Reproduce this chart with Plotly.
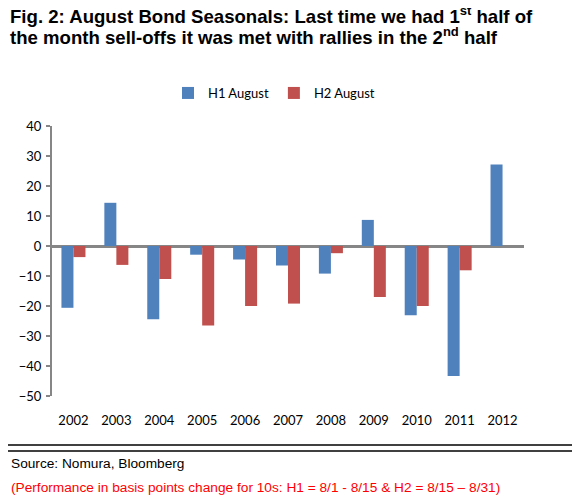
import plotly.graph_objects as go

years = ["2002", "2003", "2004", "2005", "2006", "2007", "2008", "2009", "2010", "2011", "2012"]
h1_august = [-20.6, 14.4, -24.4, -2.9, -4.5, -6.5, -9.2, 8.7, -23.1, -43.3, 27.2]
h2_august = [-3.7, -6.3, -11.0, -26.5, -20.0, -19.2, -2.4, -17.0, -20.0, -8.1, None]
y_ticks = [40, 30, 20, 10, 0, -10, -20, -30, -40, -50]

BLUE = "#4F81BD"
RED = "#C0504D"
AXIS = "#868686"

# page has an 8px body margin; figure coordinates are page coordinates minus 8
W, H = 572, 493
L, R, T, B = 44, 56, 118, 105
PW, PH = W - L - R, H - T - B


def px(xp):
    return (xp - 8 - L) / PW


def py(yp):
    return (H - B - (yp - 8)) / PH


fig = go.Figure()
fig.add_trace(go.Bar(x=years, y=h1_august, name="H1 August", marker=dict(color=BLUE, line_width=0)))
fig.add_trace(go.Bar(x=years, y=h2_august, name="H2 August", marker=dict(color=RED, line_width=0)))

ymin, ymax = -50, 40
boundaries = [i - 0.5 for i in range(len(years) + 1)]

fig.update_layout(
    width=W, height=H,
    paper_bgcolor="white", plot_bgcolor="white",
    margin=dict(l=L, r=R, t=T, b=B, autoexpand=False),
    barmode="group", bargap=0.44, bargroupgap=0,
    font=dict(family="Lato", size=13, color="#000000"),
    legend=dict(
        orientation="h", x=px(274), xanchor="center", y=py(93), yanchor="middle",
        font=dict(family="Lato", size=13), itemwidth=30, bgcolor="rgba(0,0,0,0)",
        traceorder="normal",
    ),
    xaxis=dict(
        type="category", showline=False, ticks="", showgrid=False, zeroline=False,
        tickfont=dict(family="Lato", size=13), ticklabelstandoff=15,
    ),
    xaxis2=dict(
        overlaying="x", anchor="free", position=(0 - ymin) / (ymax - ymin),
        range=[-0.5, len(years) - 0.5], tickvals=boundaries, showticklabels=False,
        ticks="outside", ticklen=5, tickwidth=2, tickcolor=AXIS,
        showline=False, showgrid=False, zeroline=False,
    ),
    yaxis=dict(
        range=[ymin, ymax], tickvals=y_ticks, showgrid=False,
        showline=True, linecolor=AXIS, linewidth=2,
        ticks="outside", ticklen=4, tickwidth=2, tickcolor=AXIS,
        zeroline=True, zerolinecolor=AXIS, zerolinewidth=2.5,
        tickfont=dict(family="Lato", size=13), ticklabelstandoff=2,
    ),
    showlegend=True,
)

# title, two lines placed separately for tighter line spacing
title_lines = [
    ("Fig. 2: August Bond Seasonals: Last time we had 1<sup>st</sup> half of", 15),
    ("the month sell-offs it was met with rallies in the 2<sup>nd</sup> half", 36),
]
for txt, ycen in title_lines:
    fig.add_annotation(
        text=txt, xref="paper", yref="paper", x=px(8), y=py(ycen),
        xanchor="left", yanchor="middle", align="left", showarrow=False,
        font=dict(family="Liberation Sans, Arial", size=18.6, color="#000000", weight="bold"),
    )

# footer separator lines
for ypx in (445, 451):
    fig.add_shape(type="line", xref="paper", yref="paper",
                  x0=px(8), x1=px(572), y0=py(ypx), y1=py(ypx),
                  line=dict(color="#000000", width=1.5))

fig.add_annotation(text="Source: Nomura, Bloomberg", xref="paper", yref="paper",
                   x=px(9), y=py(463), xanchor="left", yanchor="middle",
                   showarrow=False, font=dict(family="Liberation Sans, Arial", size=13.7, color="#000000"))
fig.add_annotation(text="(Performance in basis points change for 10s: H1 = 8/1 - 8/15 &amp; H2 = 8/15 – 8/31)",
                   xref="paper", yref="paper",
                   x=px(9), y=py(487), xanchor="left", yanchor="middle",
                   showarrow=False, font=dict(family="Liberation Sans, Arial", size=13.7, color="#FF0000"))

fig.write_html("out.html")
